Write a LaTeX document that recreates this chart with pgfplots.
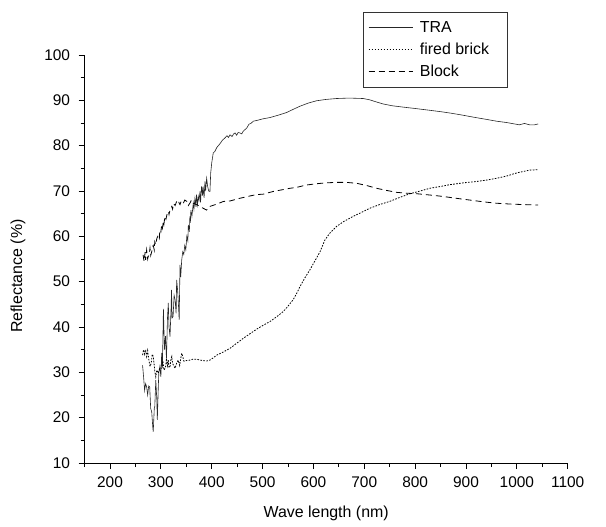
\documentclass[border=0pt]{standalone}
\usepackage{fontspec}
\setmainfont{Liberation Sans}
\usepackage{pgfplots}
\pgfplotsset{compat=1.18}
\begin{document}
\begin{tikzpicture}
\begin{axis}[
  scale only axis, width=483.1bp, height=408bp,
  xmin=150, xmax=1100, ymin=10, ymax=100,
  axis lines*=left,
  axis line style={black, line width=0.8bp},
  xtick={200,300,...,1100}, minor xtick={150,250,...,1050},
  ytick={10,20,...,100}, minor ytick={15,25,...,95},
  tick align=outside, major tick length=6bp, minor tick length=4bp,
  tick style={black, line width=0.8bp},
  ticklabel style={font=\fontsize{15.5}{18}\selectfont},
  xticklabel style={yshift=-4bp},
  yticklabel style={xshift=-5bp},
  /pgf/number format/assume math mode=true,
  /pgf/number format/1000 sep={},
  xlabel={Wave length (nm)}, ylabel={Reflectance (\%)},
  label style={font=\fontsize{16}{19}\selectfont},
  xlabel style={at={(axis description cs:0.5,-0.1225)}, anchor=center},
  ylabel style={at={(axis description cs:-0.138,0.458)}, anchor=center},
  legend style={at={(axis description cs:0.576,1.105)}, anchor=north west,
    draw=black!80, line width=0.6bp, font=\fontsize{16}{19}\selectfont,
    inner xsep=5bp, inner ysep=7bp, row sep=5bp,
    /tikz/every odd column/.append style={column sep=5bp}},
  legend cell align=left,
  legend image code/.code={\draw[#1] (0bp,0bp) -- (44bp,0bp);},
]
\addplot[black!85, line width=0.6bp] coordinates {
(264,31.6)(266,29)(268,26)(270,27.5)(272,26.8)(274,25)(276,27)(278,26.8)(280,22)(282,21.3)
(284,18)(285,16.9)(287,22)(288,22.4)(290,28.3)(292,24)(293,19.5)(295,27)(296,30)(298,31.3)
(300,29)(301.6,34.3)(303,31)(305,44)(307,35)(309,38)(311,33)(313,42)(314.6,45.3)(316,40)
(318,37.9)(320,44)(321,48.2)(322,42)(324,42.3)(326,47)(328,46)(330,43)(331,50.4)(333,48)
(335,44)(336,41.6)(337.6,53.7)(339,51)(341,54.8)(343,56.6)(345,56)(347,58)(349,57)(351,60)
(353,59)(354,62.5)(356,61)(357,64.4)(358,63)(359,65.8)(361,64.4)(363.7,67.3)(365,66)(367,68.4)
(369,66.5)(370,69.2)(372,67)(373.6,68.8)(375,68)(377,69.9)(378,67.5)(380,71)(382,69)(383,71)
(385,68.5)(386.7,72.1)(388,70)(390,72.8)(392,71)(394,70)(396.5,69.9)(398,74)(400,76.2)(403,78.4)
(406,78.7)(410,79.6)(416,80.4)(421,81.2)(426,81.7)(430,82.2)(433,81.8)(436,82.4)(440,82.0)(443,82.6)
(446,82.8)(449,82.3)(452,82.9)(455.6,82.8)(459,82.6)(462,83.2)(465,83.5)(469,83.9)(473,84.7)(478,85.0)
(481.7,85.4)(490,85.6)(500,85.9)(514.5,86.2)(530,86.7)(547,87.3)(560,88.0)(573.5,88.7)(590,89.4)(606,89.9)
(625,90.2)(645.6,90.4)(670,90.5)(698,90.4)(711,90.1)(725,89.6)(737,89.2)(755,88.8)(776.7,88.5)(800,88.2)
(829,87.8)(850,87.5)(868.5,87.2)(890,86.8)(914,86.3)(940,85.8)(960,85.4)(980,85.1)(995,84.8)(1005,84.6)
(1015,84.9)(1025,84.6)(1035,84.6)(1042,84.8)
};
\addlegendentry{TRA}
\addplot[black, line width=0.8bp, dash pattern=on 1.6bp off 1.4bp] coordinates {
(264,33.8)(266,35)(268,34)(270,35)(272,33.5)(274,34.8)(276,33)(278.6,31.3)(281,32)(283,34)
(285,33.5)(287,31.5)(288,30.2)(290,29)(292,30.5)(295,29.8)(298,31)(301.6,30.9)(304,32.5)(306,30.5)
(309,31)(311,33)(313,31.5)(314.6,32.7)(316,31)(318,31.3)(320,33)(321.5,33.5)(323,32)(325,31.5)
(328,30.9)(331,32)(334,32.7)(337,31.5)(339,33)(341,34.2)(343,33.5)(345,32.5)(347,32.4)(350,32.6)
(357,32.7)(363,32.9)(370,32.9)(377,32.7)(383,32.6)(390,32.5)(396.5,32.7)(403,33.2)(410,33.8)(423,34.5)
(436,35.3)(449,36.4)(462,37.5)(475,38.5)(488,39.5)(500,40.3)(514.5,41.2)(527,42.2)(540.6,43.4)(550,44.6)
(560,46)(567,47.4)(573.5,48.9)(583,50.8)(593,52.6)(603,54.6)(613,56.6)(622.6,59.2)(633,60.8)(645.6,62.2)
(660,63.3)(678,64.4)(695,65.3)(711,66.2)(730,67.0)(750,67.7)(770,68.6)(790,69.4)(810,70.0)(829,70.6)
(850,71.0)(868.5,71.4)(895,71.8)(921,72.1)(940,72.4)(960,72.8)(980,73.3)(1000,74.0)(1025,74.6)(1042,74.7)
};
\addlegendentry{fired brick\hspace*{11bp}}
\addplot[black, line width=0.8bp, dash pattern=on 6bp off 4bp] coordinates {
(265,55.9)(267,54.5)(269,56.5)(270,54.8)(272,57)(274,55)(275,55.5)(277,56)(278.6,57.4)(280,55.8)
(282,56.6)(284,57.8)(285,58)(287,57)(288,58.8)(290,58.2)(292,59.5)(295,60.3)(297,59.6)(298,61.4)
(300,61)(301.6,62.5)(303,61.8)(305,63.3)(306,62.7)(308,64.4)(310,63.8)(312,64.8)(314.6,65.5)(316,64.8)
(318,65.8)(321.5,66.6)(323,66)(325,67.2)(328,66.8)(331,67.7)(334,68)(336,67.3)(337.6,67)(340,67.8)
(344,67.3)(347,68)(351,67.7)(354,66.8)(357,67.3)(360,68)(363.7,67.3)(370,67)(377,66.6)(383,66.2)
(390,65.8)(396.5,66.6)(410,67.1)(423,67.7)(436,67.8)(455.6,68.4)(475,68.9)(488,69.2)(501,69.3)(521,69.9)
(540,70.3)(554,70.6)(567,70.8)(585,71.3)(606,71.6)(625,71.8)(645.6,71.9)(665,71.9)(685,71.7)(705,71.2)
(724,70.6)(745,70.1)(763.6,69.7)(785,69.5)(803,69.4)(830,69.1)(855,68.8)(880,68.4)(907.7,68.0)(935,67.6)
(960,67.3)(990,67.1)(1015,67.0)(1042,66.9)
};
\addlegendentry{Block}
\end{axis}
\path (-84.6bp,-64bp) rectangle (521.4bp,463bp);
\end{tikzpicture}
\end{document}
